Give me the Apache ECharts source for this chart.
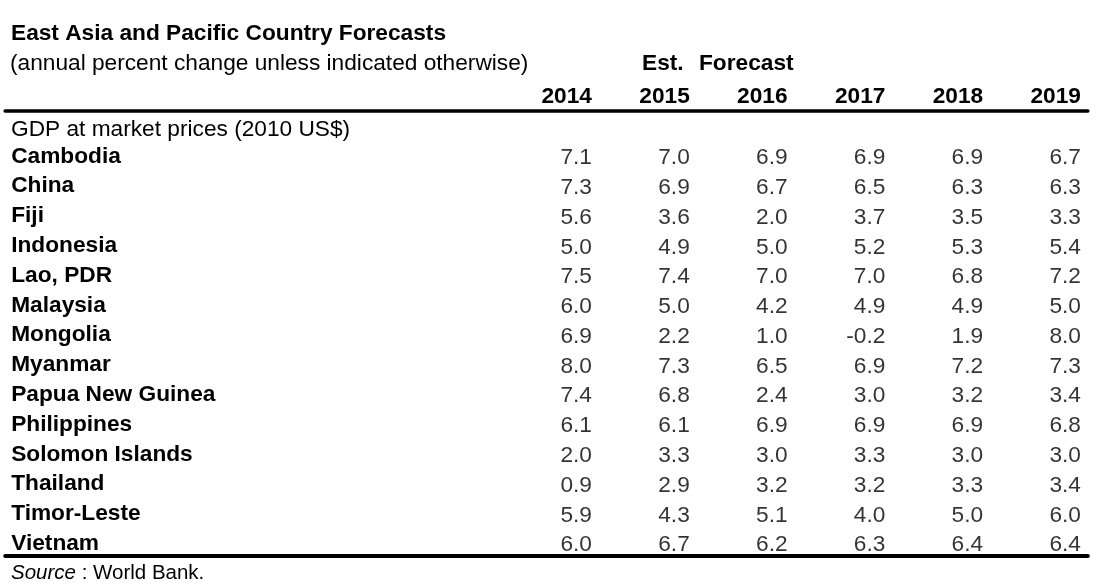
<!DOCTYPE html>
<html>
<head>
<meta charset="utf-8">
<script src="https://cdn.jsdelivr.net/npm/echarts@6/dist/echarts.min.js"></script>
<style>
  html, body { margin: 0; padding: 0; background: #fff; }
  #chart { width: 1114px; height: 586px; }
</style>
</head>
<body>
<div id="chart"></div>
<script>
// ---- data ----
var countries = ['Cambodia', 'China', 'Fiji', 'Indonesia', 'Lao, PDR', 'Malaysia', 'Mongolia',
  'Myanmar', 'Papua New Guinea', 'Philippines', 'Solomon Islands', 'Thailand', 'Timor-Leste', 'Vietnam'];
var years = ['2014', '2015', '2016', '2017', '2018', '2019'];
var gdp2014 = [7.1, 7.3, 5.6, 5.0, 7.5, 6.0, 6.9, 8.0, 7.4, 6.1, 2.0, 0.9, 5.9, 6.0];
var gdp2015 = [7.0, 6.9, 3.6, 4.9, 7.4, 5.0, 2.2, 7.3, 6.8, 6.1, 3.3, 2.9, 4.3, 6.7];
var gdp2016 = [6.9, 6.7, 2.0, 5.0, 7.0, 4.2, 1.0, 6.5, 2.4, 6.9, 3.0, 3.2, 5.1, 6.2];
var gdp2017 = [6.9, 6.5, 3.7, 5.2, 7.0, 4.9, -0.2, 6.9, 3.0, 6.9, 3.3, 3.2, 4.0, 6.3];
var gdp2018 = [6.9, 6.3, 3.5, 5.3, 6.8, 4.9, 1.9, 7.2, 3.2, 6.9, 3.0, 3.3, 5.0, 6.4];
var gdp2019 = [6.7, 6.3, 3.3, 5.4, 7.2, 5.0, 8.0, 7.3, 3.4, 6.8, 3.0, 3.4, 6.0, 6.4];
var title = 'East Asia and Pacific Country Forecasts';
var subtitle = '(annual percent change unless indicated otherwise)';
var rowHeader = 'GDP at market prices (2010 US$)';
var estLabel = 'Est.';
var forecastLabel = 'Forecast';
var sourceLabel = 'Source';
var sourceText = ' : World Bank.';

// ---- build ----
var columns = [gdp2014, gdp2015, gdp2016, gdp2017, gdp2018, gdp2019];
var cells = [];
columns.forEach(function (col, ci) {
  col.forEach(function (v, ri) {
    cells.push([ci, countries[ri], v]);
  });
});

var FONT = 'Liberation Sans';
var FS = 22.7;

var chart = echarts.init(document.getElementById('chart'), null, { renderer: 'canvas' });
chart.setOption({
  animation: false,
  backgroundColor: '#ffffff',
  textStyle: { fontFamily: FONT, color: '#000' },
  grid: { left: 5.2, right: 26.2, top: 141.5, bottom: 27.5, containLabel: false },
  xAxis: [
    {
      type: 'value', min: -6, max: 5.07, interval: 1, position: 'top', offset: 30.5,
      axisLine: { show: true, lineStyle: { color: '#000', width: 3.6 } },
      axisTick: { show: false }, splitLine: { show: false },
      axisLabel: {
        show: true, margin: 3, align: 'right', color: '#000', hideOverlap: false,
        fontFamily: FONT, fontSize: FS, fontWeight: 'bold',
        formatter: function (v) {
          var i = Math.round(v);
          return (Math.abs(v - i) < 1e-6 && i >= 0 && i < years.length) ? years[i] : '';
        }
      }
    },
    {
      type: 'value', min: -6, max: 5.07, interval: 1, position: 'bottom', offset: -2.5,
      axisLine: { show: true, lineStyle: { color: '#000', width: 4 } },
      axisTick: { show: false }, splitLine: { show: false }, axisLabel: { show: false }
    }
  ],
  yAxis: {
    type: 'category', data: countries, inverse: true,
    axisLine: { show: false }, axisTick: { show: false }, splitLine: { show: false },
    axisLabel: {
      inside: true, margin: 6, color: '#000', padding: [5, 0, 0, 0],
      interval: 0, hideOverlap: false,
      fontFamily: FONT, fontSize: FS, fontWeight: 'bold'
    }
  },
  series: [{
    type: 'scatter', xAxisIndex: 0, yAxisIndex: 0,
    data: cells, symbolSize: 0, itemStyle: { color: 'rgba(0,0,0,0)' },
    label: {
      show: true, position: 'inside', align: 'right', verticalAlign: 'middle',
      offset: [0, 1.5],
      color: '#000', fontFamily: FONT, fontSize: FS,
      formatter: function (p) { return p.value[2].toFixed(1); }
    }
  }],
  graphic: [
    { type: 'text', x: 11, y: 34, style: { text: title, font: 'bold ' + FS + 'px "' + FONT + '"', fill: '#000', verticalAlign: 'middle' } },
    { type: 'text', x: 10, y: 63.5, style: { text: subtitle, font: FS + 'px "' + FONT + '"', fill: '#000', verticalAlign: 'middle' } },
    { type: 'text', x: 642, y: 63.5, style: { text: estLabel, font: 'bold ' + FS + 'px "' + FONT + '"', fill: '#000', verticalAlign: 'middle' } },
    { type: 'text', x: 699, y: 63.5, style: { text: forecastLabel, font: 'bold ' + FS + 'px "' + FONT + '"', fill: '#000', verticalAlign: 'middle' } },
    { type: 'text', x: 11, y: 130, style: { text: rowHeader, font: FS + 'px "' + FONT + '"', fill: '#000', verticalAlign: 'middle' } },
    { type: 'text', x: 11, y: 573, style: {
        text: '{i|' + sourceLabel + '}{r|' + sourceText + '}', fill: '#000', verticalAlign: 'middle',
        rich: {
          i: { fontFamily: FONT, fontSize: 20.5, fontStyle: 'italic', color: '#000' },
          r: { fontFamily: FONT, fontSize: 20.5, color: '#000' }
        }
      } }
  ]
});
</script>
</body>
</html>
